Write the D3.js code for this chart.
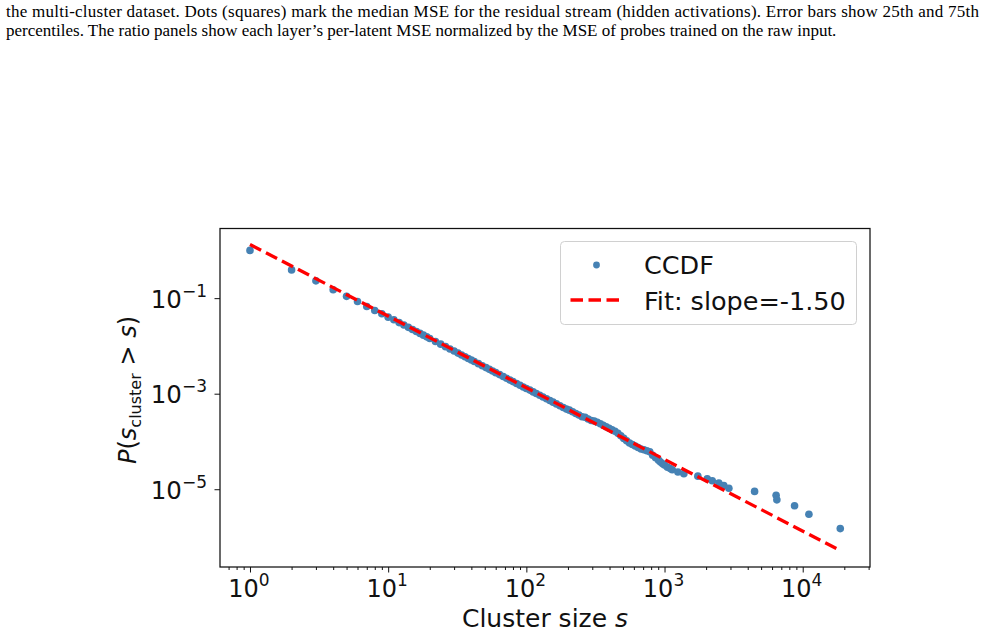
<!DOCTYPE html>
<html>
<head>
<meta charset="utf-8">
<script src="https://cdn.jsdelivr.net/npm/d3@7"></script>
<style>
  html, body { margin: 0; padding: 0; background: #ffffff; }
  svg { display: block; }
</style>
</head>
<body>
<svg id="chart" width="985" height="635"></svg>
<script>
// ---------------- data ----------------
const captionLines = [
  "the multi-cluster dataset. Dots (squares) mark the median MSE for the residual stream (hidden activations). Error bars show 25th and 75th",
  "percentiles. The ratio panels show each layer\u2019s per-latent MSE normalized by the MSE of probes trained on the raw input."
];
const ccdfSize = [1,2,3,4,5,6,7,8,9,10,11,12,13,14,15,16,17,18,19,20,22,24,26,28,30,32,34,36,38,40,42,45,48,51,54,57,60,64,68,72,76,80,85,90,95,100,
  106,112,118,125,132,140,148,156,165,175,185,195,205,216,228,240,253,266,280,295,310,326,343,360,378,397,417,438,460,483,507,532,558,585,614,644,676,710,745,782,821,862,905,935,970,1000,1050,1100,1137,1250,1380,1742,2038,2215,2472,2687,2922,4485,6420,6500,8730,11090,18700];
const ccdfProb = [1.0,0.39,0.23,0.15,0.109,0.085,0.067,0.055,0.047,0.040,0.0352,0.0308,0.0274,0.0245,0.0221,0.0200,0.0183,0.0168,0.0155,0.0143,0.0124,0.0109,0.00966,0.00865,0.00780,0.00708,0.00647,0.00593,0.00547,0.00507,0.00471,0.00425,0.00385,0.00352,0.00323,0.00298,0.00276,0.00251,0.00229,0.00210,0.00194,0.00179,0.00164,0.00150,0.00138,0.00128,
  1.19e-3,1.09e-3,1.01e-3,9.29e-4,8.55e-4,7.83e-4,7.21e-4,6.65e-4,6.12e-4,5.60e-4,5.15e-4,4.76e-4,4.52e-4,4.18e-4,3.85e-4,3.57e-4,3.30e-4,3.21e-4,2.96e-4,2.74e-4,2.67e-4,2.53e-4,2.34e-4,2.18e-4,2.03e-4,1.88e-4,1.75e-4,1.63e-4,1.48e-4,1.31e-4,1.16e-4,1.03e-4,9.29e-5,8.65e-5,8.05e-5,7.50e-5,6.97e-5,6.70e-5,6.38e-5,6.07e-5,5.15e-5,4.57e-5,4.06e-5,3.7e-5,3.4e-5,3.2e-5,2.9e-5,2.7e-5,2.55e-5,2.3e-5,2.12e-5,1.88e-5,1.65e-5,1.5e-5,1.35e-5,1.2e-5,1.05e-5,9.0e-6,7.5e-6,6.0e-6,4.5e-6,3.0e-6,1.5e-6];
const fitSize = [1, 18700];
const fitProb = [1.33, 5.2e-7];
const xMajorTicks = [1, 10, 100, 1000, 10000];
const yMajorTicks = [1e-1, 1e-3, 1e-5];
const xLim = [0.6067, 30690];
const yLim = [2.355e-7, 2.871];
const legendLabels = ["CCDF", "Fit: slope=-1.50"];
const xLabelText = "Cluster size ";

// ---------------- layout ----------------
const svg = d3.select("#chart");
const plot = { left: 220, right: 870, top: 228.5, bottom: 567 };
const FONT = "DejaVu Sans, sans-serif";
const dotColor = "#4682b4";

// caption
const cap = svg.append("g").attr("font-family", "Liberation Serif, Times New Roman, serif").attr("font-size", 17).attr("fill", "#000");
cap.append("text").attr("x", 6).attr("y", 17).attr("textLength", 973).attr("lengthAdjust", "spacing").text(captionLines[0]);
cap.append("text").attr("x", 6).attr("y", 36).text(captionLines[1]);

const x = d3.scaleLog().domain(xLim).range([plot.left, plot.right]);
const y = d3.scaleLog().domain(yLim).range([plot.bottom, plot.top]);

// clip
svg.append("clipPath").attr("id", "clip").append("rect")
  .attr("x", plot.left).attr("y", plot.top).attr("width", plot.right - plot.left).attr("height", plot.bottom - plot.top);

const pts = ccdfSize.map((s, i) => ({ s, p: ccdfProb[i] }));
svg.append("g").attr("clip-path", "url(#clip)")
  .selectAll("circle").data(pts).join("circle")
  .attr("cx", d => x(d.s)).attr("cy", d => y(d.p)).attr("r", 3.8)
  .attr("fill", dotColor);

// fit line
const fitData = fitSize.map((s, i) => ({ s, p: fitProb[i] }));
svg.append("path").datum(fitData)
  .attr("clip-path", "url(#clip)")
  .attr("d", d3.line().x(d => x(d.s)).y(d => y(d.p)))
  .attr("fill", "none").attr("stroke", "#ff0000").attr("stroke-width", 3.3)
  .attr("stroke-dasharray", "12.5,5.5");

// frame
svg.append("rect").attr("x", plot.left).attr("y", plot.top)
  .attr("width", plot.right - plot.left).attr("height", plot.bottom - plot.top)
  .attr("fill", "none").attr("stroke", "#111").attr("stroke-width", 1.25);

// x axis ticks
const minorX = x.ticks().filter(v => {
  const l = Math.log10(v); return Math.abs(l - Math.round(l)) > 1e-6;
}).filter(v => v >= xLim[0] && v <= xLim[1]);
const xAxisMinor = d3.axisBottom(x).tickValues(minorX).tickSize(3).tickFormat("");
const xAxisMajor = d3.axisBottom(x).tickValues(xMajorTicks).tickSize(5.5).tickFormat("");
const gxm = svg.append("g").attr("transform", `translate(0,${plot.bottom})`).call(xAxisMinor);
const gxM = svg.append("g").attr("transform", `translate(0,${plot.bottom})`).call(xAxisMajor);
[gxm, gxM].forEach(g => {
  g.select(".domain").remove();
  g.selectAll("line").attr("stroke", "#111").attr("stroke-width", 1);
});

// x tick labels (10^n)
const xl = svg.append("g").attr("font-family", FONT).attr("fill", "#111");
xMajorTicks.forEach(v => {
  const t = xl.append("text").attr("x", x(v) - 1).attr("y", 597).attr("text-anchor", "middle").attr("font-size", 24);
  t.append("tspan").text("10");
  t.append("tspan").attr("dy", -11).attr("font-size", 17).text(String(Math.round(Math.log10(v))));
});

// y axis ticks
const yAxis = d3.axisLeft(y).tickValues(yMajorTicks).tickSize(5.5).tickFormat("");
const gy = svg.append("g").attr("transform", `translate(${plot.left},0)`).call(yAxis);
gy.select(".domain").remove();
gy.selectAll("line").attr("stroke", "#111").attr("stroke-width", 1);

const yl = svg.append("g").attr("font-family", FONT).attr("fill", "#111");
yMajorTicks.forEach(v => {
  const t = yl.append("text").attr("x", 207).attr("y", y(v) + 9.5).attr("text-anchor", "end").attr("font-size", 24.5);
  t.append("tspan").text("10");
  t.append("tspan").attr("dy", -11).attr("font-size", 17).text("\u2212" + String(Math.round(-Math.log10(v))));
});

// x label
const xt = svg.append("text").attr("x", (plot.left + plot.right) / 2).attr("y", 627)
  .attr("text-anchor", "middle").attr("font-family", FONT).attr("font-size", 25).attr("fill", "#111");
xt.append("tspan").text(xLabelText);
xt.append("tspan").attr("font-style", "italic").text("s");

// y label
const yt = svg.append("text").attr("transform", "translate(136,390) rotate(-90)")
  .attr("text-anchor", "middle").attr("font-family", FONT).attr("font-size", 24).attr("fill", "#111");
yt.append("tspan").attr("font-style", "italic").text("P");
yt.append("tspan").text("(");
yt.append("tspan").attr("font-style", "italic").text("s");
yt.append("tspan").attr("dy", 5).attr("font-size", 16).text("cluster");
yt.append("tspan").attr("dy", -5).text(" > ");
yt.append("tspan").attr("font-style", "italic").text("s");
yt.append("tspan").text(")");

// legend
const lg = svg.append("g");
lg.append("rect").attr("x", 560.5).attr("y", 241.5).attr("width", 296).attr("height", 83).attr("rx", 4)
  .attr("fill", "#ffffff").attr("fill-opacity", 0.8).attr("stroke", "#d0d0d0").attr("stroke-width", 1);
lg.append("circle").attr("cx", 596.5).attr("cy", 265).attr("r", 3.4).attr("fill", dotColor);
lg.append("line").attr("x1", 570.5).attr("x2", 621.5).attr("y1", 300).attr("y2", 300)
  .attr("stroke", "#ff0000").attr("stroke-width", 3.3).attr("stroke-dasharray", "12.5,5.5");
lg.selectAll("text.lab").data(legendLabels).join("text").attr("class", "lab")
  .attr("x", 644).attr("y", (d, i) => 273.5 + i * 36)
  .attr("font-family", FONT).attr("font-size", 25.5).attr("fill", "#111").text(d => d);
</script>
</body>
</html>
